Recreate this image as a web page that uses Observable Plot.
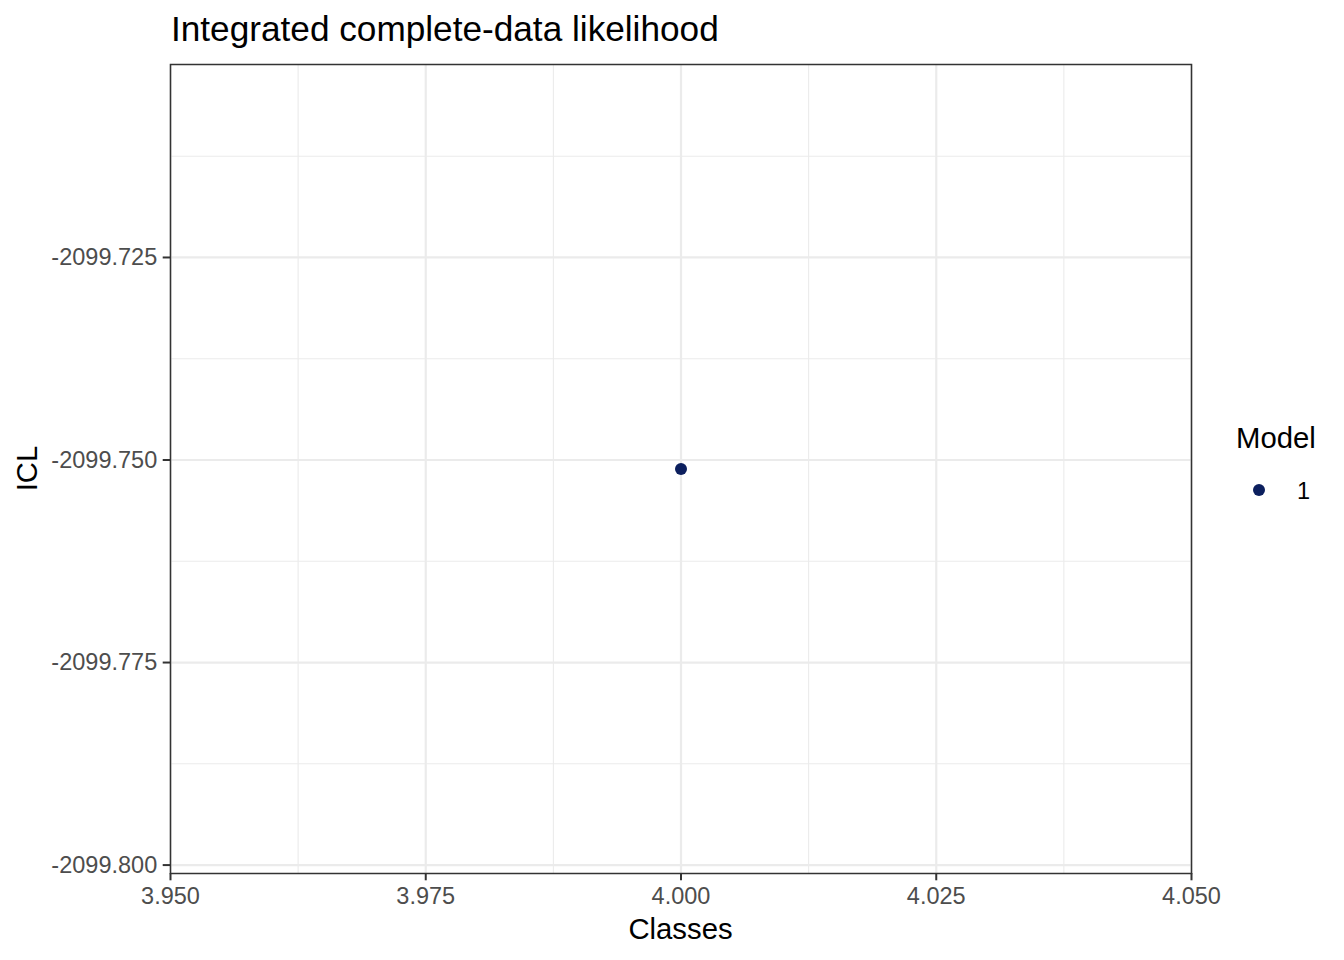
<!DOCTYPE html>
<html>
<head>
<meta charset="utf-8">
<script src="https://cdn.jsdelivr.net/npm/d3@7"></script>
<script src="https://cdn.jsdelivr.net/npm/@observablehq/plot@0.6"></script>
<style>
  html, body { margin: 0; padding: 0; background: #fff; }
  #chart { width: 1344px; height: 960px; }
</style>
</head>
<body>
<div id="chart"></div>
<script>
// ---- data ----
const classes = [4];
const icl = [-2099.7511];
const models = ["1"];

const xDomain = [3.95, 4.05];
const yDomain = [-2099.80104, -2099.70118];
const xMajor = [3.95, 3.975, 4.0, 4.025, 4.05];
const xMinor = [3.9625, 3.9875, 4.0125, 4.0375];
const yMajor = [-2099.8, -2099.775, -2099.75, -2099.725];
const yMinor = [-2099.7875, -2099.7625, -2099.7375, -2099.7125];

const titleText = "Integrated complete-data likelihood";
const xLabel = "Classes";
const yLabel = "ICL";
const legendTitle = "Model";
const pointColor = "#0C1F5E";

const data = classes.map((c, i) => ({classes: c, icl: icl[i], model: models[i]}));

const W = 1344, H = 960;
const mL = 170, mR = 153, mT = 64, mB = 87;
const FONT = "Liberation Sans, Arial, Helvetica, sans-serif";

const plot = Plot.plot({
  width: W,
  height: H,
  marginLeft: mL,
  marginRight: mR,
  marginTop: mT,
  marginBottom: mB,
  style: {fontFamily: FONT, background: "#fff", overflow: "visible"},
  x: {domain: xDomain},
  y: {domain: yDomain},
  color: {domain: models, range: [pointColor]},
  marks: [
    Plot.gridX(xMinor, {stroke: "#EBEBEB", strokeOpacity: 1, strokeWidth: 1.1}),
    Plot.gridY(yMinor, {stroke: "#EBEBEB", strokeOpacity: 1, strokeWidth: 1.1}),
    Plot.gridX(xMajor, {stroke: "#EBEBEB", strokeOpacity: 1, strokeWidth: 2.2}),
    Plot.gridY(yMajor, {stroke: "#EBEBEB", strokeOpacity: 1, strokeWidth: 2.2}),
    Plot.axisX({
      ticks: xMajor, tickSize: 7.3, tickPadding: 7, label: null,
      tickFormat: d => d.toFixed(3), fontSize: 23.5, fill: "#4D4D4D",
      stroke: "#333333", strokeWidth: 2
    }),
    Plot.axisY({
      ticks: yMajor, tickSize: 7.3, tickPadding: 6, label: null,
      tickFormat: d => d.toFixed(3), fontSize: 23.5, fill: "#4D4D4D",
      stroke: "#333333", strokeWidth: 2
    }),
    Plot.dot(data, {x: "classes", y: "icl", fill: "model", r: 6, stroke: null}),
    Plot.frame({stroke: "#333333", strokeWidth: 1.5})
  ]
});

document.getElementById("chart").appendChild(plot);

const svg = d3.select(plot);
// title
svg.append("text")
  .attr("x", 171).attr("y", 41)
  .attr("text-anchor", "start")
  .attr("font-family", FONT).attr("font-size", 35.2).attr("fill", "#000")
  .text(titleText);
// x axis title
svg.append("text")
  .attr("x", (mL + (W - mR)) / 2).attr("y", 939)
  .attr("text-anchor", "middle")
  .attr("font-family", FONT).attr("font-size", 29.3).attr("fill", "#000")
  .text(xLabel);
// y axis title
svg.append("text")
  .attr("transform", `translate(37,${(mT + (H - mB)) / 2}) rotate(-90)`)
  .attr("text-anchor", "middle")
  .attr("font-family", FONT).attr("font-size", 29.3).attr("fill", "#000")
  .text(yLabel);
// legend
const lg = svg.append("g");
lg.append("text")
  .attr("x", 1236).attr("y", 448)
  .attr("text-anchor", "start")
  .attr("font-family", FONT).attr("font-size", 29.3).attr("fill", "#000")
  .text(legendTitle);
models.forEach((m, i) => {
  lg.append("circle")
    .attr("cx", 1259).attr("cy", 490 + i * 35).attr("r", 6)
    .attr("fill", pointColor);
  lg.append("text")
    .attr("x", 1297).attr("y", 499 + i * 35)
    .attr("text-anchor", "start")
    .attr("font-family", FONT).attr("font-size", 23.5).attr("fill", "#000")
    .text(m);
});
</script>
</body>
</html>
